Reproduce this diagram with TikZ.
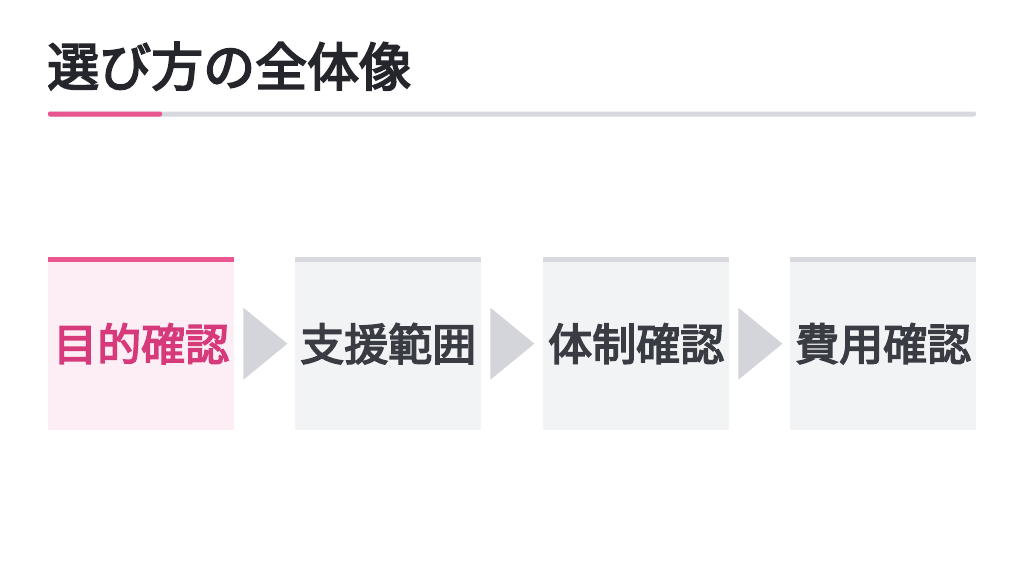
\documentclass[tikz,border=0pt]{standalone}
\usepackage{fontspec}
\newfontfamily\jp[FakeBold=3.5]{Noto Sans CJK JP}
\usetikzlibrary{calc}
\definecolor{pinkmain}{HTML}{E8558F}
\definecolor{pinktext}{HTML}{D63A7A}
\definecolor{pinkfill}{HTML}{FDEEF5}
\definecolor{grayfill}{HTML}{F2F3F5}
\definecolor{graybar}{HTML}{D8D9DE}
\definecolor{grayarrow}{HTML}{D4D5DA}
\definecolor{darktext}{HTML}{3A3C44}
\definecolor{titletext}{HTML}{25262B}
\tikzset{
  stepbox/.style={draw=none, fill=grayfill, minimum width=186pt, minimum height=173pt, inner sep=0pt, anchor=north west,
    font=\jp\fontsize{44}{44}\selectfont, text=darktext},
  activebox/.style={stepbox, fill=pinkfill, text=pinktext},
  flowarrow/.style={fill=grayarrow, draw=none}
}
\begin{document}
\begin{tikzpicture}[x=1pt,y=-1pt]
\useasboundingbox (0,0) rectangle (1024,576);
\fill[white] (0,0) rectangle (1024,576);
% title
\node[anchor=base west, inner sep=0pt, font=\jp\fontsize{52}{52}\selectfont, text=titletext] (title) at (47,86) {選び方の全体像};
\fill[graybar, rounded corners=2pt] (48,111.5) rectangle (976,116.5);
\fill[pinkmain, rounded corners=2pt] (48,111.5) rectangle (162,116.5);
% boxes
\node[activebox] (b1) at (48,257) {目的確認};
\node[stepbox] (b2) at (295,257) {支援範囲};
\node[stepbox] (b3) at (543,257) {体制確認};
\node[stepbox] (b4) at (790,257) {費用確認};
% top bars
\fill[pinkmain] (b1.north west) rectangle ($(b1.north east)+(0,5)$);
\foreach \b in {b2,b3,b4}{
  \fill[graybar] (\b.north west) rectangle ($(\b.north east)+(0,5)$);
}
% arrows
\foreach \a/\b in {b1/b2,b2/b3,b3/b4}{
  \fill[flowarrow] ($(\a.east)+(9,-36)$) -- ($(\a.east)+(53,0)$) -- ($(\a.east)+(9,36)$) -- cycle;
}
\end{tikzpicture}
\end{document}
